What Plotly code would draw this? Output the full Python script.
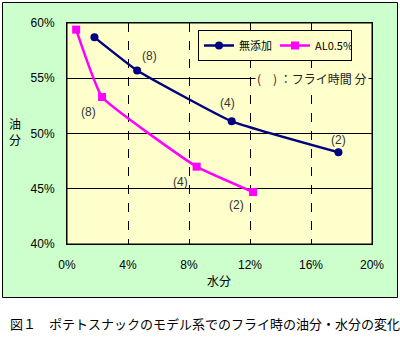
import plotly.graph_objects as go

# ---- data ----
water_none = [1.8, 4.6, 10.8, 17.8]        # 水分 (%)  無添加
oil_none = [58.7, 55.7, 51.1, 48.3]        # 油分 (%)
labels_none = ["", "(8)", "(4)", "(2)"]

water_al = [0.6, 2.3, 8.5, 12.2]           # 水分 (%)  AL0.5%
oil_al = [59.4, 53.3, 47.0, 44.7]          # 油分 (%)
labels_al = ["", "(8)", "(4)", "(2)"]

x_ticks = [0, 4, 8, 12, 16, 20]
y_ticks = [40, 45, 50, 55, 60]

FONT = "Liberation Sans, Noto Sans CJK JP, sans-serif"
JP = "Noto Sans CJK JP, sans-serif"
NAVY = "#000080"
MAG = "#FF00FF"
GREEN = "#CCFFCC"
YEL = "#FFFFCC"

W, H = 400, 337
ML, MR, MT, MB = 67, 28, 23, 93
PW, PH = W - ML - MR, H - MT - MB


def px(xp):
    return (xp - ML) / PW


def py(yp):
    return (H - MB - yp) / PH


fig = go.Figure()
fig.add_trace(go.Scatter(
    x=water_none, y=oil_none, name="無添加", mode="lines+markers",
    line=dict(color=NAVY, width=2.5, shape="spline", smoothing=0.35),
    marker=dict(symbol="circle", size=8, color=NAVY),
))
fig.add_trace(go.Scatter(
    x=water_al, y=oil_al, name="AL0.5%", mode="lines+markers",
    line=dict(color=MAG, width=2.5, shape="spline", smoothing=0.35),
    marker=dict(symbol="square", size=8, color=MAG),
))

ann = []
shifts_none = [(0, 0), (12, 15), (-4, 18), (0, 12)]
shifts_al = [(0, 0), (-14, -15), (-16, -15), (-17, -13)]
for xs, ys, ls, sh in [(water_none, oil_none, labels_none, shifts_none),
                       (water_al, oil_al, labels_al, shifts_al)]:
    for xv, yv, lab, (dx, dy) in zip(xs, ys, ls, sh):
        if lab:
            ann.append(dict(x=xv, y=yv, xref="x", yref="y", text=lab,
                            showarrow=False, xshift=dx, yshift=dy,
                            xanchor="center", yanchor="middle",
                            font=dict(family=FONT, size=12, color="#333333")))

ann.append(dict(x=px(312), y=55, xref="paper", yref="y",
                xanchor="center", yanchor="middle",
                text="(　) ：フライ時間 分", showarrow=False, bgcolor=YEL,
                borderpad=1,
                font=dict(family=JP, size=12, color="#222222")))
ann.append(dict(x=px(15), y=py(131), xref="paper", yref="paper",
                xanchor="center", yanchor="middle",
                text="油<br>分", showarrow=False,
                font=dict(family=JP, size=12, color="black")))
ann.append(dict(x=px(219), y=py(280), xref="paper", yref="paper",
                xanchor="center", yanchor="middle",
                text="水分", showarrow=False,
                font=dict(family=JP, size=12, color="black")))
ann.append(dict(x=px(8), y=py(323), xref="paper", yref="paper",
                xanchor="left", yanchor="middle",
                text="図１　ポテトスナックのモデル系でのフライ時の油分・水分の変化",
                showarrow=False,
                font=dict(family=JP, size=13, color="black")))

shapes = [
    dict(type="rect", xref="paper", yref="paper", layer="below",
         x0=px(2.5), x1=px(397.5), y0=py(297.5), y1=py(2.5),
         fillcolor=GREEN, line=dict(color="black", width=1)),
    dict(type="rect", xref="paper", yref="paper", layer="below",
         x0=0, x1=1, y0=0, y1=1, fillcolor=YEL,
         line=dict(color="black", width=1)),
]

fig.update_layout(
    width=W, height=H,
    margin=dict(l=ML, r=MR, t=MT, b=MB),
    paper_bgcolor="white", plot_bgcolor="rgba(0,0,0,0)",
    font=dict(family=FONT, size=12, color="black"),
    showlegend=True,
    legend=dict(orientation="h", x=px(352), y=py(30), xanchor="right",
                yanchor="top", bgcolor=YEL, bordercolor="black",
                borderwidth=1, font=dict(family=JP, size=11),
                itemwidth=30, entrywidth=31, entrywidthmode="pixels",
                tracegroupgap=0),
    annotations=ann, shapes=shapes,
)
fig.update_xaxes(range=[0, 20], tickvals=x_ticks,
                 ticktext=[f"{v}%" for v in x_ticks],
                 showgrid=True, gridcolor="black", griddash="dash", gridwidth=1,
                 zeroline=False, showline=True, linecolor="black", mirror=True,
                 ticks="", ticklabelstandoff=10)
fig.update_yaxes(range=[40, 60], tickvals=y_ticks,
                 ticktext=[f"{v}%" for v in y_ticks],
                 showgrid=True, gridcolor="black", gridwidth=1,
                 zeroline=False, showline=True, linecolor="black", mirror=True,
                 ticks="", ticklabelstandoff=9)

fig.write_html("out.html")
